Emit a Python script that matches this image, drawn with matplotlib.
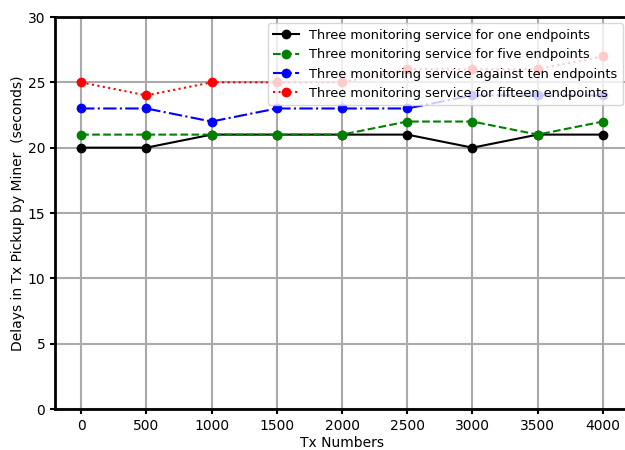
import matplotlib
matplotlib.use("Agg")
import matplotlib.pyplot as plt

tx_numbers = [0, 500, 1000, 1500, 2000, 2500, 3000, 3500, 4000]
one_endpoint = [20, 20, 21, 21, 21, 21, 20, 21, 21]
five_endpoints = [21, 21, 21, 21, 21, 22, 22, 21, 22]
ten_endpoints = [23, 23, 22, 23, 23, 23, 24, 24, 24]
fifteen_endpoints = [25, 24, 25, 25, 25, 26, 26, 26, 27]

labels = [
    "Three monitoring service for one endpoints",
    "Three monitoring service for five endpoints",
    "Three monitoring service against ten endpoints",
    "Three monitoring service for fifteen endpoints",
]

fig = plt.figure(figsize=(6.25, 4.5), dpi=100)
ax = fig.add_axes([0.088, 0.0911, 0.9184, 0.8711])
ax.plot(tx_numbers, one_endpoint, "k-", marker="o", markersize=6, label=labels[0])
ax.plot(tx_numbers, five_endpoints, color="green", linestyle="--", marker="o", markersize=6, label=labels[1])
ax.plot(tx_numbers, ten_endpoints, color="blue", linestyle="-.", marker="o", markersize=6, label=labels[2])
ax.plot(tx_numbers, fifteen_endpoints, color="red", linestyle=":", marker="o", markersize=6, label=labels[3])

ax.set_ylim(0, 30)
ax.set_xticks(tx_numbers)
ax.grid(True, color="#aaaaaa", linewidth=1.5)
ax.set_axisbelow(True)
for side in ax.spines.values():
    side.set_linewidth(2)
ax.spines["right"].set_visible(False)
ax.tick_params(width=1.5, length=3.5)
ax.set_xlabel("Tx Numbers", labelpad=2)
ax.set_ylabel("Delays in Tx Pickup by Miner  (seconds)", labelpad=2)
ax.legend(loc="upper right", fontsize=9.3)

fig.savefig("out.png")
